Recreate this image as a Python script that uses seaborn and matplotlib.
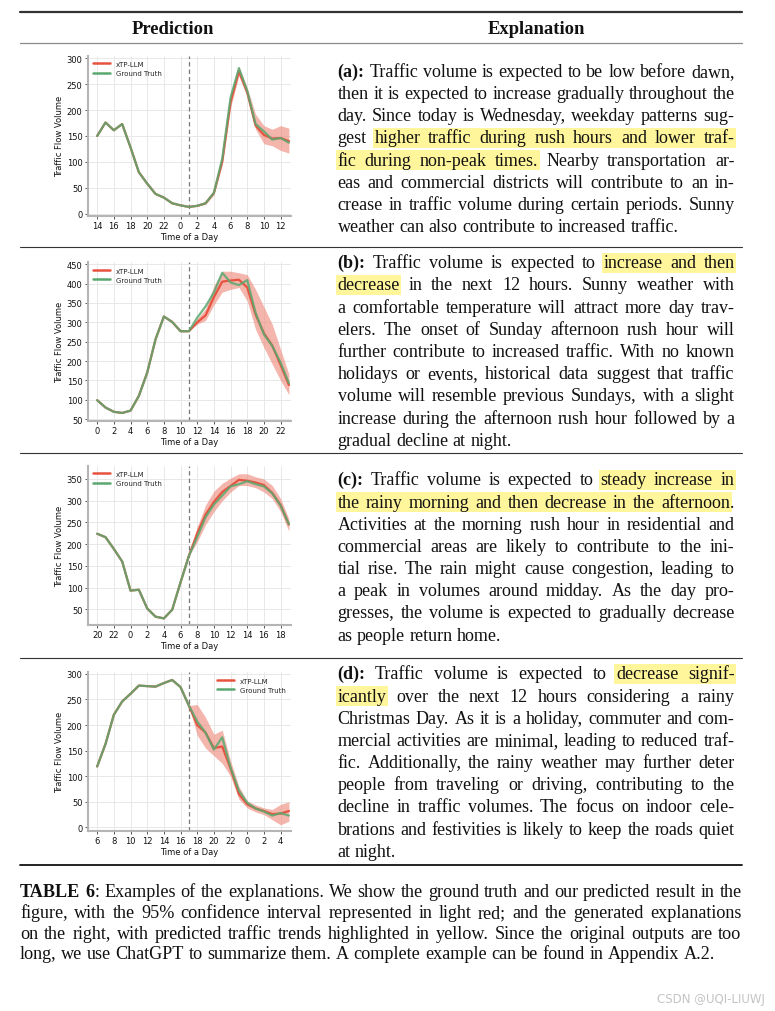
import numpy as np
import pandas as pd
import matplotlib
matplotlib.use("Agg")
import matplotlib.pyplot as plt
from matplotlib.patches import Rectangle
from matplotlib.lines import Line2D
import seaborn as sns

# ---------------- data ----------------
hours_a = [14, 15, 16, 17, 18, 19, 20, 21, 22, 23, 0, 1, 2, 3, 4, 5, 6, 7, 8, 9, 10, 11, 12, 13]
truth_a = [150, 176, 161, 173, 128, 80, 58, 38, 31, 20, 16, 13, 15, 20, 40, 106, 224, 281, 237, 173, 159, 143, 146, 137]
pred_a = [13, 15, 20, 40, 100, 215, 275, 234, 170, 152, 145, 146, 140]
lo_a = [13, 14, 18, 36, 94, 205, 266, 226, 163, 135, 131, 122, 117]
hi_a = [13, 16, 22, 44, 110, 228, 285, 243, 192, 170, 163, 170, 165]
yticks_a = [0, 50, 100, 150, 200, 250, 300]

hours_b = [0, 1, 2, 3, 4, 5, 6, 7, 8, 9, 10, 11, 12, 13, 14, 15, 16, 17, 18, 19, 20, 21, 22, 23]
truth_b = [99, 80, 69, 66, 72, 110, 170, 256, 315, 301, 277, 277, 312, 341, 377, 428, 403, 396, 409, 325, 269, 239, 196, 143]
pred_b = [277, 300, 318, 365, 405, 408, 410, 390, 320, 272, 240, 190, 138]
lo_b = [277, 295, 305, 345, 378, 385, 390, 355, 282, 235, 192, 150, 113]
hi_b = [277, 310, 335, 395, 432, 432, 428, 423, 385, 340, 295, 230, 166]
yticks_b = [50, 100, 150, 200, 250, 300, 350, 400, 450]

hours_c = [20, 21, 22, 23, 0, 1, 2, 3, 4, 5, 6, 7, 8, 9, 10, 11, 12, 13, 14, 15, 16, 17, 18, 19]
truth_c = [224, 216, 189, 160, 93, 95, 52, 33, 29, 49, 112, 173, 216, 262, 291, 312, 333, 338, 345, 338, 333, 317, 289, 246]
pred_c = [173, 225, 268, 297, 320, 334, 348, 346, 342, 336, 318, 290, 245]
lo_c = [173, 205, 245, 275, 300, 320, 335, 335, 330, 320, 305, 275, 230]
hi_c = [173, 240, 290, 322, 340, 352, 362, 362, 355, 350, 335, 305, 258]
yticks_c = [50, 100, 150, 200, 250, 300, 350]

hours_d = [6, 7, 8, 9, 10, 11, 12, 13, 14, 15, 16, 17, 18, 19, 20, 21, 22, 23, 0, 1, 2, 3, 4, 5]
truth_d = [119, 163, 220, 246, 261, 277, 276, 275, 282, 288, 274, 238, 207, 185, 152, 176, 117, 72, 48, 37, 31, 23, 28, 23]
pred_d = [238, 200, 185, 155, 158, 115, 65, 45, 37, 32, 26, 27, 32]
lo_d = [238, 180, 155, 140, 125, 100, 55, 38, 30, 25, 15, 5, 12]
hi_d = [238, 240, 215, 182, 190, 130, 80, 52, 44, 38, 35, 45, 50]
yticks_d = [0, 50, 100, 150, 200, 250, 300]

forecast_start = 11
series_labels = ["xTP-LLM", "Ground Truth"]

headers = ["Prediction", "Explanation"]

para_a = [
    "*(a):* Traffic volume is expected to be low before dawn,",
    "then it is expected to increase gradually throughout the",
    "day. Since today is Wednesday, weekday patterns sug-",
    "gest {higher traffic during rush hours and lower traf-}",
    "{fic during non-peak times.} Nearby transportation ar-",
    "eas and commercial districts will contribute to an in-",
    "crease in traffic volume during certain periods. Sunny",
    "weather can also contribute to increased traffic.",
]
para_b = [
    "*(b):* Traffic volume is expected to {increase and then}",
    "{decrease} in the next 12 hours. Sunny weather with",
    "a comfortable temperature will attract more day trav-",
    "elers. The onset of Sunday afternoon rush hour will",
    "further contribute to increased traffic. With no known",
    "holidays or events, historical data suggest that traffic",
    "volume will resemble previous Sundays, with a slight",
    "increase during the afternoon rush hour followed by a",
    "gradual decline at night.",
]
para_c = [
    "*(c):* Traffic volume is expected to {steady increase in}",
    "{the rainy morning and then decrease in the afternoon}.",
    "Activities at the morning rush hour in residential and",
    "commercial areas are likely to contribute to the ini-",
    "tial rise. The rain might cause congestion, leading to",
    "a peak in volumes around midday. As the day pro-",
    "gresses, the volume is expected to gradually decrease",
    "as people return home.",
]
para_d = [
    "*(d):* Traffic volume is expected to {decrease signif-}",
    "{icantly} over the next 12 hours considering a rainy",
    "Christmas Day. As it is a holiday, commuter and com-",
    "mercial activities are minimal, leading to reduced traf-",
    "fic. Additionally, the rainy weather may further deter",
    "people from traveling or driving, contributing to the",
    "decline in traffic volumes. The focus on indoor cele-",
    "brations and festivities is likely to keep the roads quiet",
    "at night.",
]
caption = [
    "*TABLE* *6*: Examples of the explanations. We show the ground truth and our predicted result in the",
    "figure, with the 95% confidence interval represented in light red; and the generated explanations",
    "on the right, with predicted traffic trends highlighted in yellow. Since the original outputs are too",
    "long, we use ChatGPT to summarize them. A complete example can be found in Appendix A.2.",
]
watermark = "CSDN @UQI-LIUWJ"

# ---------------- style ----------------
sns.set_theme(style="whitegrid")
plt.rcParams["font.family"] = ["DejaVu Sans"]
plt.rcParams["axes.unicode_minus"] = False

W, H = 775, 1012
fig = plt.figure(figsize=(W / 100, H / 100), dpi=100)
fig.patch.set_facecolor("white")


def fx(x):
    return x / W


def fy(y):
    return 1 - y / H


RED = "#e8533f"
GREEN = "#5aa870"
BAND = "#ef8e80"
YELLOW = "#fff69c"
SERIF = "Liberation Serif"

panels = [
    (hours_a, truth_a, pred_a, lo_a, hi_a, yticks_a, (-4, 305), "upper left", (88, 56.7, 291, 216.7)),
    (hours_b, truth_b, pred_b, lo_b, hi_b, yticks_b, (46, 455), "upper left", (88, 263.3, 291, 421.7)),
    (hours_c, truth_c, pred_c, lo_c, hi_c, yticks_c, (14.5, 380.6), "upper left", (88, 466.7, 291, 625.7)),
    (hours_d, truth_d, pred_d, lo_d, hi_d, yticks_d, (-6.5, 303), "upper right", (88, 673.3, 291, 831.7)),
]

for hours, truth, pred, lo, hi, yt, ylim, legloc, box in panels:
    x0, y0, x1, y1 = box
    ax = fig.add_axes([fx(x0), fy(y1), (x1 - x0) / W, (y1 - y0) / H])
    idx = np.arange(len(hours))
    pidx = idx[forecast_start:]
    truth = np.asarray(truth, float)
    model_series = np.concatenate([truth[:forecast_start], np.asarray(pred, float)])
    ax.fill_between(pidx, lo, hi, color=BAND, alpha=0.65, lw=0, zorder=1)
    df = pd.DataFrame({"t": np.concatenate([idx, idx]),
                       "v": np.concatenate([model_series, truth]),
                       "s": [series_labels[0]] * len(idx) + [series_labels[1]] * len(idx)})
    sns.lineplot(data=df[df.s == series_labels[0]], x="t", y="v", ax=ax, color=RED, lw=1.6,
                 label=series_labels[0], zorder=3)
    sns.lineplot(data=df[df.s == series_labels[1]], x="t", y="v", ax=ax, color=GREEN, lw=1.6,
                 alpha=0.85, label=series_labels[1], zorder=4)
    ax.axvline(forecast_start, color="#777777", ls="--", lw=0.9, dashes=(3.5, 2.5), zorder=2)
    ax.set_xlim(-1.1, 23.25)
    ax.set_ylim(*ylim)
    ax.set_xticks(idx[::2])
    ax.set_xticklabels([str(h) for h in hours[::2]])
    ax.set_yticks(yt)
    ax.grid(True, color="#e8e8e8", lw=0.7)
    for s in ["top", "right"]:
        ax.spines[s].set_visible(False)
    for s in ["left", "bottom"]:
        ax.spines[s].set_color("#b5b5b5")
        ax.spines[s].set_linewidth(1.5)
    ax.tick_params(axis="both", labelsize=6, length=2.5, width=0.7, color="#555555",
                   pad=1.5, bottom=True, left=True, labelcolor="#111111")
    ax.set_xlabel("Time of a Day", fontsize=6, labelpad=1, color="#111111")
    ax.set_ylabel("Traffic Flow Volume", fontsize=6, labelpad=2, color="#111111")
    leg = ax.legend(loc=legloc, frameon=False, fontsize=5, handlelength=2.4,
                    borderaxespad=0.35, labelspacing=0.45, handletextpad=0.9)
    for ln in leg.get_lines():
        ln.set_linewidth(1.8)
        ln.set_alpha(1)

# ---------------- text layout ----------------
renderer = fig.canvas.get_renderer()
_cache = {}


def text_width(s, bold, size):
    key = (s, bold, round(size, 4))
    if key not in _cache:
        t = fig.text(0, 0, s, fontsize=size, family=SERIF,
                     fontweight="bold" if bold else "normal")
        _cache[key] = t.get_window_extent(renderer=renderer).width
        t.remove()
    return _cache[key]


def space_width(size):
    return text_width("a a", False, size) - 2 * text_width("a", False, size)


def parse_line(line, state):
    tokens = []
    for tok in line.split(" "):
        segs = []
        cur = ""
        for ch in tok:
            if ch in "*{}":
                if cur:
                    segs.append((cur, state["bold"], state["hl"]))
                    cur = ""
                if ch == "*":
                    state["bold"] = not state["bold"]
                elif ch == "{":
                    state["hl"] = True
                else:
                    state["hl"] = False
            else:
                cur += ch
        if cur:
            segs.append((cur, state["bold"], state["hl"]))
        tokens.append(segs)
    return tokens


def natural_width(line, size):
    toks = parse_line(line, {"bold": False, "hl": False})
    toks = [t for t in toks if t]
    # join tokens like "*TABLE* *6*:" need spaces counted
    w = sum(text_width(s, b, size) for t in toks for s, b, h in t)
    return w + space_width(size) * (len(toks) - 1)


def draw_paragraph(lines, x0, x1, yb0, dy, size):
    state = {"bold": False, "hl": False}
    sp = space_width(size)
    for i, line in enumerate(lines):
        tokens = [t for t in parse_line(line, state) if t]
        widths = [sum(text_width(s, b, size) for s, b, h in t) for t in tokens]
        last = i == len(lines) - 1
        if last or len(tokens) == 1:
            gap = sp
        else:
            gap = (x1 - x0 - sum(widths)) / (len(tokens) - 1)
        yb = yb0 + i * dy
        x = x0
        spans = []
        prev_hl = False
        for tok, w in zip(tokens, widths):
            for s, b, h in tok:
                ws = text_width(s, b, size)
                fig.text(fx(x), fy(yb), s, fontsize=size, family=SERIF,
                         fontweight="bold" if b else "normal", va="baseline",
                         ha="left", color="#111111", zorder=3)
                if h:
                    if prev_hl and spans:
                        spans[-1][1] = x + ws
                    else:
                        spans.append([x, x + ws])
                prev_hl = h
                x += ws
            x += gap
        for a, b in spans:
            fig.add_artist(Rectangle((fx(a - 1.5), fy(yb + 5.5)), (b - a + 3) / W, 20 / H,
                                     transform=fig.transFigure, facecolor=YELLOW,
                                     edgecolor="none", zorder=1))


# body font size calibration
s0 = 12.0
size_b = s0 * 342 / text_width(para_a[-1], False, s0)
max_nat = max(natural_width(l, size_b) for p in [para_a, para_b, para_c, para_d] for l in p[:-1])
if max_nat > 396:
    size_b *= 396 / max_nat

size_c = s0 * 716 / natural_width(caption[0], s0)

# headers
size_h = s0 * 82 / text_width(headers[0], True, s0)
fig.text(fx(173), fy(34), headers[0], fontsize=size_h, family=SERIF, fontweight="bold",
         ha="center", va="baseline", color="#111111")
fig.text(fx(536), fy(34), headers[1], fontsize=size_h, family=SERIF, fontweight="bold",
         ha="center", va="baseline", color="#111111")

# rules
def hrule(y, color, lw):
    fig.add_artist(Line2D([fx(20), fx(742)], [fy(y), fy(y)], color=color, lw=lw,
                          transform=fig.transFigure, zorder=2))


hrule(12.7, "#333333", 1.6)
hrule(44.3, "#8a8a8a", 0.9)
hrule(248.3, "#333333", 0.8)
hrule(454.0, "#333333", 0.8)
hrule(658.5, "#333333", 0.8)
hrule(865.7, "#111111", 1.3)

# explanations
for para, yb in [(para_a, 76.7), (para_b, 268.3), (para_c, 485.3), (para_d, 679.3)]:
    draw_paragraph(para, 337.5, 734.5, yb, 22.2, size_b)

# caption
draw_paragraph(caption, 20, 741.5, 897.3, 20.7, size_c)

# watermark
fig.text(fx(765), fy(1003), watermark, fontsize=8.5, family="DejaVu Sans",
         ha="right", va="baseline", color="#c4c4c4")

fig.savefig("out.png", dpi=100)
